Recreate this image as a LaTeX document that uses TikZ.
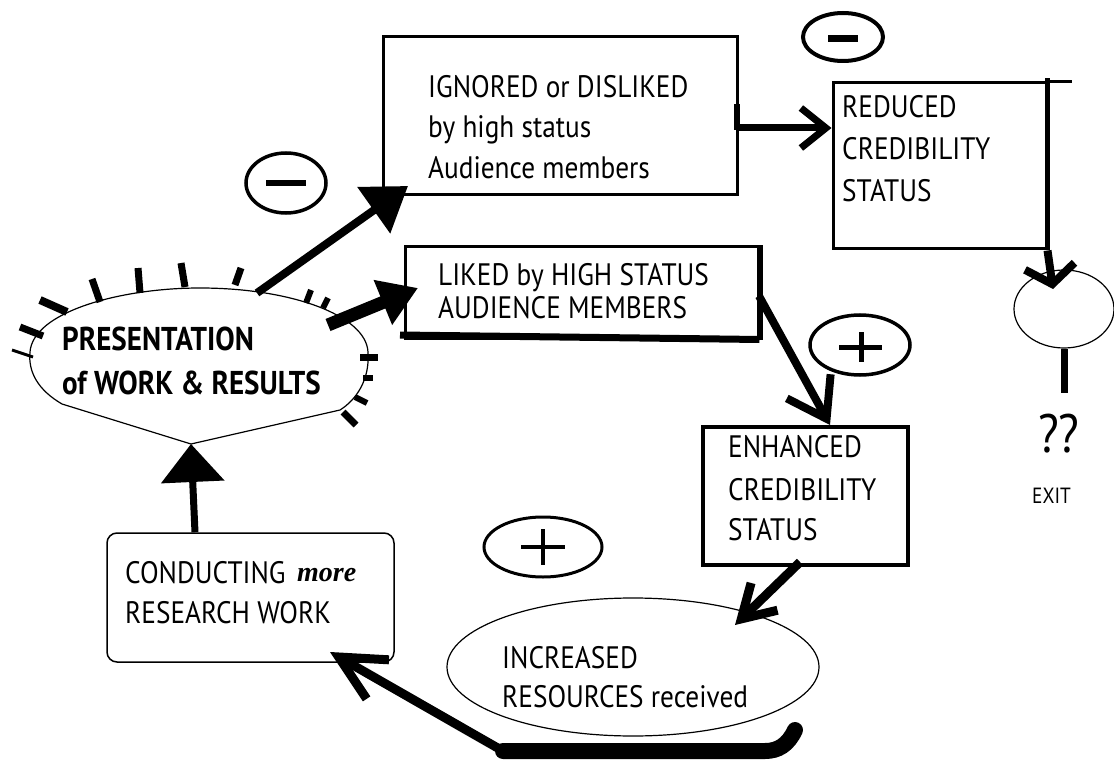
\documentclass[tikz,border=0pt]{standalone}
\usepackage{fontspec}
\setmainfont{PT Sans}[FakeStretch=0.88]
\newfontfamily\morefont{Liberation Serif}
\usetikzlibrary{arrows.meta,shapes.geometric,calc}
\begin{document}
\begin{tikzpicture}[x=1pt,y=-1pt,
  txt/.style={anchor=base west,inner sep=0pt,font=\fontsize{31}{36}\selectfont},
  btxt/.style={anchor=base west,inner sep=0pt,font=\fontsize{33}{36}\selectfont\bfseries},
  boxthick/.style={draw,rectangle,line width=3pt,inner sep=0pt},
  signoval/.style={draw,ellipse,line width=3.5pt,inner sep=0pt},
  signbar/.style={line width=5pt},
  tickmark/.style={line width=7pt},
  conn/.style={line width=7pt}]
\useasboundingbox (0,0) rectangle (1114,762);
\fill[white] (0,0) rectangle (1114,762);

% ---------- boxes ----------
\node[boxthick,minimum width=354pt,minimum height=158pt] (ign) at (560,116) {};
\node[boxthick,minimum width=213pt,minimum height=166pt] (red) at (939.5,166) {};
\node[boxthick,minimum width=353pt,minimum height=91pt] (lik) at (581.5,292.5) {};
\node[boxthick,line width=4pt,minimum width=205pt,minimum height=138pt] (enh) at (805.5,496) {};
\node[draw,rectangle,rounded corners=10pt,line width=1.5pt,minimum width=287pt,minimum height=129pt,inner sep=0pt] (cond) at (250.5,597.5) {};
\node[draw,ellipse,line width=1.2pt,minimum width=372pt,minimum height=138pt,inner sep=0pt] (inc) at (633,667) {};
\node[draw,ellipse,line width=1.2pt,minimum width=100pt,minimum height=78pt,inner sep=0pt] (exitc) at (1064,309) {};

% extra box strokes
\draw[line width=3pt] (red.north east) -- ++(24,0);
\draw[line width=5pt] ($(red.north east)+(0,-3)$) -- (red.south east);
\draw[line width=7pt] (400,335) -- (lik.south east);
\draw[line width=6pt] (lik.north east) -- (lik.south east);
\draw[line width=6pt] (737,104) -- (737,130);

% ---------- presentation oval ----------
\coordinate (pres) at (199,355);
\coordinate (presTop) at (257,293);
\coordinate (presRight) at (328,325);
\coordinate (presBottom) at (191,444);
\draw[line width=1.2pt] (62,404) .. controls (38,390) and (28,372) .. (30,352)
  .. controls (33,312) and (120,288) .. (200,288)
  .. controls (290,288) and (366,315) .. (368,352)
  .. controls (370,380) and (356,400) .. (340,410) -- (presBottom) -- cycle;
\node[btxt] (pres1) at (62,350) {PRESENTATION};
\node[btxt] (pres2) at (62,394) {of WORK \& RESULTS};

% ticks
\draw[line width=3pt] (12,350) -- (33,357);
\draw[tickmark] (20,327) -- (43,336);
\draw[tickmark,line width=8pt] (40,300) -- (67,312);
\draw[tickmark] (92,279) -- (100,302);
\draw[tickmark] (138,268) -- (140,293);
\draw[tickmark] (181,263) -- (185,287);
\draw[tickmark] (241,268) -- (235,285);
\draw[tickmark,line width=6pt] (311,290) -- (306,303);
\draw[tickmark,line width=6pt] (328,298) -- (323,308);
\draw[tickmark] (360,357) -- (378,357);
\draw[tickmark,line width=6pt] (363,378) -- (373,378);
\draw[tickmark,line width=6pt] (355,397) -- (367,403);
\draw[tickmark] (343,412) -- (356,425);

% ---------- signs ----------
\node[signoval,line width=4pt,minimum width=80pt,minimum height=48pt] (minusTop) at (843,37) {};
\draw[signbar,line width=7pt] ($(minusTop.center)+(-15,2)$) -- ($(minusTop.center)+(15,2)$);
\node[signoval,minimum width=80pt,minimum height=60pt] (minusLeft) at (286,183) {};
\draw[signbar,line width=6pt] ($(minusLeft.center)+(-20,0)$) -- ($(minusLeft.center)+(20,0)$);
\node[signoval,minimum width=100pt,minimum height=60pt] (plusRight) at (860,345) {};
\draw[signbar] ($(plusRight.center)+(-21,2)$) -- ($(plusRight.center)+(22,2)$);
\draw[signbar] ($(plusRight.center)+(1,-13)$) -- ($(plusRight.center)+(1,17)$);
\node[signoval,line width=3pt,minimum width=118pt,minimum height=60pt] (plusBottom) at (543,547) {};
\draw[signbar,line width=4pt] ($(plusBottom.center)+(-22,0)$) -- ($(plusBottom.center)+(22,0)$);
\draw[signbar,line width=4pt] ($(plusBottom.center)+(0,-18)$) -- ($(plusBottom.center)+(0,18)$);

% ---------- texts ----------
\node[txt] (ign1) at (428,98) {IGNORED or DISLIKED};
\node[txt] (ign2) at (428,138) {by high status};
\node[txt] (ign3) at (428,179) {Audience members};
\node[txt] (red1) at (842,118) {REDUCED};
\node[txt] (red2) at (842,160) {CREDIBILITY};
\node[txt] (red3) at (842,202) {STATUS};
\node[txt] (lik1) at (438,285) {LIKED by HIGH STATUS};
\node[txt] (lik2) at (438,318) {AUDIENCE MEMBERS};
\node[txt] (enh1) at (728,457) {ENHANCED};
\node[txt] (enh2) at (728,500) {CREDIBILITY};
\node[txt] (enh3) at (728,540) {STATUS};
\node[txt] (inc1) at (502,668) {INCREASED};
\node[txt] (inc2) at (502,707) {RESOURCES received};
\node[txt] (con1) at (125,583) {CONDUCTING};
\node[anchor=base west,inner sep=0pt,font=\fontsize{28}{30}\morefont\bfseries\itshape] (more) at (297,581) {more};
\node[txt] (con2) at (125,623) {RESEARCH WORK};
\node[anchor=base west,inner sep=0pt,font=\fontsize{54}{58}\selectfont] (qq) at (1038,452) {??};
\node[anchor=base west,inner sep=0pt,font=\fontsize{22}{24}\selectfont] (exitt) at (1032,503) {EXIT};

% ---------- connectors ----------
\coordinate (ignIn) at (408,186);
\draw[line width=8pt,-{Triangle[length=42pt,width=55pt]}] (presTop) -- (ignIn);
\coordinate (likIn) at (418,288);
\draw[line width=13pt,-{Triangle[length=38pt,width=46pt]}] (presRight) -- (likIn);
\draw[conn,-{Triangle[length=38pt,width=62pt]}] (cond.north -| 195,0) -- (presBottom);
\draw[conn,-{Straight Barb[length=25pt,width=40pt]}] (737,128) -- (red.west |- 0,128);
\draw[line width=8pt,-{Straight Barb[length=18pt,width=50pt]}] (red.south east) -- (1053,289);
\draw[conn] (exitc.south) -- (1064,393);
\draw[line width=8pt,-{Straight Barb[length=37pt,width=50pt]}] (759,296) -- (enh.north -| 830,0);
\draw[line width=9pt,-{Straight Barb[length=32pt,width=38pt]}] (800,562) -- (735,625);
\coordinate (incOut) at (795,730);
\coordinate (bandL) at (503,751);
\draw[line width=16pt,line cap=round] (incOut) .. controls (788,745) and (778,751) .. (765,751) -- (bandL);
\draw[line width=9pt,-{Straight Barb[length=45pt,width=45pt]}] (bandL) -- (330,652);
\end{tikzpicture}
\end{document}
